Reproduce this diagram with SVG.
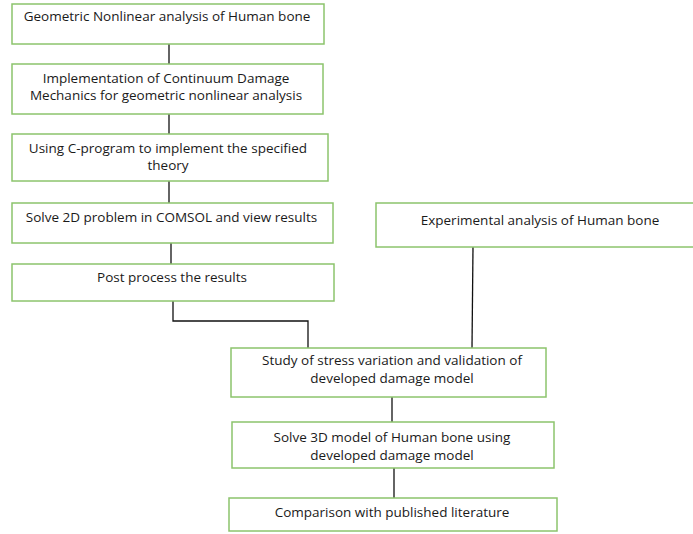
<svg xmlns="http://www.w3.org/2000/svg" width="693" height="534" viewBox="0 0 693 534">
<style>
.box{fill:#fff;stroke:#8cc46c;stroke-width:1.5}
.t{font-family:"Open Sans","Noto Sans",sans-serif;font-size:13.5px;fill:#1a1a1a;text-anchor:middle}
.c{fill:none;stroke:#111;stroke-width:1.3}
</style>
<rect width="693" height="534" fill="#fff"/>
<g id="connectors">
<line class="c" x1="169" y1="44" x2="169" y2="64"/>
<line class="c" x1="169" y1="114" x2="169" y2="134"/>
<line class="c" x1="169" y1="181" x2="169" y2="203"/>
<line class="c" x1="171" y1="243" x2="171" y2="264"/>
<polyline class="c" points="173,301 173,321 308,321 308,348"/>
<line class="c" x1="473" y1="247" x2="472" y2="348"/>
<line class="c" x1="392" y1="397" x2="392" y2="422"/>
<line class="c" x1="394" y1="468" x2="394" y2="498"/>
</g>
<g id="n1"><rect class="box" x="12" y="4" width="312" height="40"/><text class="t" x="167" y="21">Geometric Nonlinear analysis of Human bone</text></g>
<g id="n2"><rect class="box" x="12" y="64" width="311" height="50"/><text class="t" x="166" y="83">Implementation of Continuum Damage</text><text class="t" x="166" y="100">Mechanics for geometric nonlinear analysis</text></g>
<g id="n3"><rect class="box" x="12" y="134" width="316" height="47"/><text class="t" x="168" y="153">Using C-program to implement the specified</text><text class="t" x="168" y="170">theory</text></g>
<g id="n4"><rect class="box" x="12" y="203" width="321" height="40"/><text class="t" x="171.5" y="222">Solve 2D problem in COMSOL and view results</text></g>
<g id="n5"><rect class="box" x="12" y="264" width="322" height="37"/><text class="t" x="172" y="282">Post process the results</text></g>
<g id="n6"><rect class="box" x="376" y="203" width="318" height="44"/><text class="t" x="540" y="225">Experimental analysis of Human bone</text></g>
<g id="n7"><rect class="box" x="231" y="348" width="315" height="49"/><text class="t" x="392" y="365">Study of stress variation and validation of</text><text class="t" x="392" y="383">developed damage model</text></g>
<g id="n8"><rect class="box" x="232" y="422" width="322" height="46"/><text class="t" x="392" y="442">Solve 3D model of Human bone using</text><text class="t" x="392" y="460">developed damage model</text></g>
<g id="n9"><rect class="box" x="229" y="498" width="328" height="33"/><text class="t" x="392" y="517">Comparison with published literature</text></g>
</svg>
